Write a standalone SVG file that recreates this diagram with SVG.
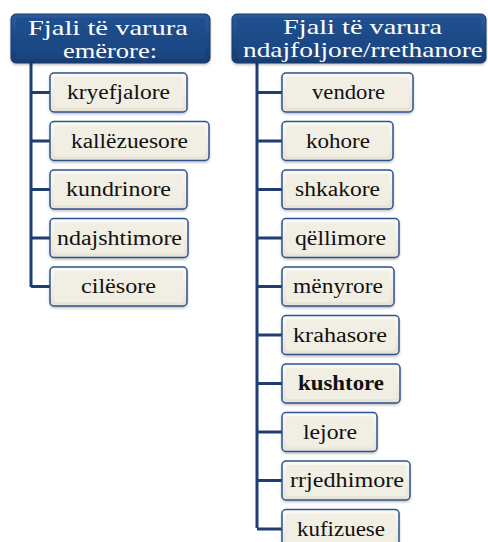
<svg xmlns="http://www.w3.org/2000/svg" width="488" height="542" viewBox="0 0 488 542">
  <defs>
    <linearGradient id="hdrFill" x1="0" y1="0" x2="0" y2="1">
      <stop offset="0" stop-color="#2a5a9c"/>
      <stop offset="0.5" stop-color="#1d4a88"/>
      <stop offset="1" stop-color="#163c72"/>
    </linearGradient>
    <linearGradient id="hdrInner" x1="0" y1="0" x2="0" y2="1">
      <stop offset="0" stop-color="#1f4f8f"/>
      <stop offset="1" stop-color="#1a457f"/>
    </linearGradient>
    <linearGradient id="boxFill" x1="0" y1="0" x2="0" y2="1">
      <stop offset="0" stop-color="#fbfaf6"/>
      <stop offset="1" stop-color="#e6e2d5"/>
    </linearGradient>
    <filter id="shadow" x="-10%" y="-10%" width="120%" height="130%">
      <feDropShadow dx="0" dy="1.5" stdDeviation="1.2" flood-color="#000" flood-opacity="0.25"/>
    </filter>
  </defs>
  <style>
    .hdr { fill: url(#hdrFill); stroke: #17396a; stroke-width: 1; filter: url(#shadow); }
    .hdrIn { fill: url(#hdrInner); }
    .box { fill: url(#boxFill); stroke: #2e5390; stroke-width: 1.5; filter: url(#shadow); }
    .boxIn { fill: #f1eee4; }
    text { font-family: "Liberation Serif", "Times New Roman", serif; }
    .hdrTxt { font-size: 22px; fill: #ffffff; }
    .txt { font-size: 20px; fill: #111111; }
    .bold { font-weight: bold; }
    .conn { stroke: #1f3f73; stroke-width: 3; fill: none; }
  </style>
  <rect width="488" height="542" fill="#ffffff"/>

  <!-- tree connectors -->
  <g id="connectors">
    <path class="conn" d="M31,62 V287 M31,92.5 H50 M31,141 H50 M31,189.5 H50 M31,238 H50 M31,286.5 H50"/>
    <path class="conn" d="M257,62 V528 M257,92.5 H282 M257,141 H282 M257,189.5 H282 M257,238 H282 M257,286.5 H282 M257,335 H282 M257,383.5 H282 M257,432 H282 M257,480.5 H282 M257,529 H282"/>
  </g>

  <!-- left column -->
  <g id="hdr-emerore">
    <rect class="hdr" x="11" y="14" width="199" height="49" rx="5"/>
    <rect class="hdrIn" x="16" y="18" width="189" height="41" rx="3"/>
    <text class="hdrTxt" x="28" y="35" textLength="160" lengthAdjust="spacingAndGlyphs">Fjali të varura</text>
    <text class="hdrTxt" x="63" y="58" textLength="94" lengthAdjust="spacingAndGlyphs">emërore:</text>
  </g>
  <g id="n-kryefjalore">
    <rect class="box" x="50" y="73" width="137" height="39" rx="4"/>
    <rect class="boxIn" x="54" y="77" width="129" height="31" rx="2"/>
    <text class="txt" x="67" y="99" textLength="103" lengthAdjust="spacingAndGlyphs">kryefjalore</text>
  </g>
  <g id="n-kallezuesore">
    <rect class="box" x="50" y="121.5" width="159" height="39" rx="4"/>
    <rect class="boxIn" x="54" y="125.5" width="151" height="31" rx="2"/>
    <text class="txt" x="71" y="147.5" textLength="117" lengthAdjust="spacingAndGlyphs">kallëzuesore</text>
  </g>
  <g id="n-kundrinore">
    <rect class="box" x="50" y="170" width="137" height="39" rx="4"/>
    <rect class="boxIn" x="54" y="174" width="129" height="31" rx="2"/>
    <text class="txt" x="66" y="196" textLength="105" lengthAdjust="spacingAndGlyphs">kundrinore</text>
  </g>
  <g id="n-ndajshtimore">
    <rect class="box" x="50" y="218.5" width="138" height="39" rx="4"/>
    <rect class="boxIn" x="54" y="222.5" width="130" height="31" rx="2"/>
    <text class="txt" x="57" y="244.5" textLength="125" lengthAdjust="spacingAndGlyphs">ndajshtimore</text>
  </g>
  <g id="n-cilesore">
    <rect class="box" x="50" y="267" width="137" height="39" rx="4"/>
    <rect class="boxIn" x="54" y="271" width="129" height="31" rx="2"/>
    <text class="txt" x="81" y="293" textLength="75" lengthAdjust="spacingAndGlyphs">cilësore</text>
  </g>

  <!-- right column -->
  <g id="hdr-ndajfoljore">
    <rect class="hdr" x="232" y="14" width="254" height="49" rx="5"/>
    <rect class="hdrIn" x="237" y="18" width="244" height="41" rx="3"/>
    <text class="hdrTxt" x="283" y="34" textLength="159" lengthAdjust="spacingAndGlyphs">Fjali të varura</text>
    <text class="hdrTxt" x="243" y="57" textLength="240" lengthAdjust="spacingAndGlyphs">ndajfoljore/rrethanore</text>
  </g>
  <g id="n-vendore">
    <rect class="box" x="282" y="73" width="131" height="39" rx="4"/>
    <rect class="boxIn" x="286" y="77" width="123" height="31" rx="2"/>
    <text class="txt" x="312" y="99" textLength="73" lengthAdjust="spacingAndGlyphs">vendore</text>
  </g>
  <g id="n-kohore">
    <rect class="box" x="282" y="121.5" width="111" height="39" rx="4"/>
    <rect class="boxIn" x="286" y="125.5" width="103" height="31" rx="2"/>
    <text class="txt" x="306" y="147.5" textLength="64" lengthAdjust="spacingAndGlyphs">kohore</text>
  </g>
  <g id="n-shkakore">
    <rect class="box" x="282" y="170" width="111" height="39" rx="4"/>
    <rect class="boxIn" x="286" y="174" width="103" height="31" rx="2"/>
    <text class="txt" x="295" y="196" textLength="85" lengthAdjust="spacingAndGlyphs">shkakore</text>
  </g>
  <g id="n-qellimore">
    <rect class="box" x="282" y="218.5" width="117" height="39" rx="4"/>
    <rect class="boxIn" x="286" y="222.5" width="109" height="31" rx="2"/>
    <text class="txt" x="295" y="244.5" textLength="91" lengthAdjust="spacingAndGlyphs">qëllimore</text>
  </g>
  <g id="n-menyrore">
    <rect class="box" x="282" y="267" width="112" height="39" rx="4"/>
    <rect class="boxIn" x="286" y="271" width="104" height="31" rx="2"/>
    <text class="txt" x="293" y="293" textLength="90" lengthAdjust="spacingAndGlyphs">mënyrore</text>
  </g>
  <g id="n-krahasore">
    <rect class="box" x="282" y="315.5" width="117" height="39" rx="4"/>
    <rect class="boxIn" x="286" y="319.5" width="109" height="31" rx="2"/>
    <text class="txt" x="293" y="341.5" textLength="94" lengthAdjust="spacingAndGlyphs">krahasore</text>
  </g>
  <g id="n-kushtore">
    <rect class="box" x="282" y="364" width="118" height="39" rx="4"/>
    <rect class="boxIn" x="286" y="368" width="110" height="31" rx="2"/>
    <text class="txt bold" x="298" y="390" textLength="86" lengthAdjust="spacingAndGlyphs">kushtore</text>
  </g>
  <g id="n-lejore">
    <rect class="box" x="282" y="412.5" width="95" height="39" rx="4"/>
    <rect class="boxIn" x="286" y="416.5" width="87" height="31" rx="2"/>
    <text class="txt" x="303" y="438.5" textLength="54" lengthAdjust="spacingAndGlyphs">lejore</text>
  </g>
  <g id="n-rrjedhimore">
    <rect class="box" x="282" y="461" width="128" height="39" rx="4"/>
    <rect class="boxIn" x="286" y="465" width="120" height="31" rx="2"/>
    <text class="txt" x="290" y="487" textLength="114" lengthAdjust="spacingAndGlyphs">rrjedhimore</text>
  </g>
  <g id="n-kufizuese">
    <rect class="box" x="282" y="509.5" width="117" height="39" rx="4"/>
    <rect class="boxIn" x="286" y="513.5" width="109" height="31" rx="2"/>
    <text class="txt" x="297" y="535.5" textLength="88" lengthAdjust="spacingAndGlyphs">kufizuese</text>
  </g>
</svg>
